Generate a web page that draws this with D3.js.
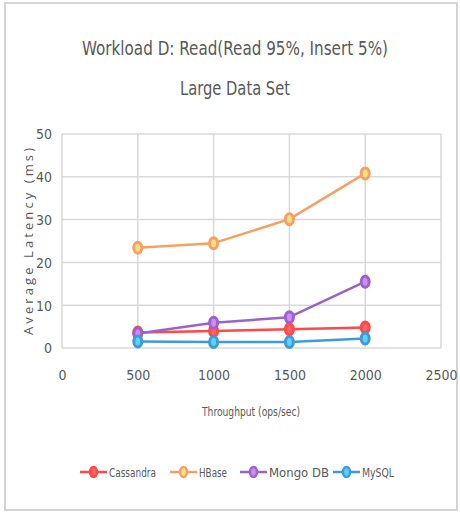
<!DOCTYPE html>
<html>
<head>
<meta charset="utf-8">
<script src="https://cdn.jsdelivr.net/npm/d3@7"></script>
<style>
  html, body { margin: 0; padding: 0; background: #ffffff; }
  svg { display: block; }
  text { font-family: "Liberation Sans Narrow", "DejaVu Sans Condensed", "Open Sans", sans-serif; fill: #595959; }
</style>
</head>
<body>
<svg id="chart" width="460" height="512"></svg>
<script>
// Throughput levels (ops/sec) on the x axis
const throughput = [500, 1000, 1500, 2000];

// Average latency (ms) per database
const cassandra = [3.6, 4.0, 4.4, 4.8];
const hbase     = [23.4, 24.5, 30.1, 40.8];
const mongodb   = [3.4, 5.9, 7.2, 15.5];
const mysql     = [1.5, 1.4, 1.4, 2.2];

const seriesNames  = ["Cassandra", "HBase", "Mongo DB", "MySQL"];
const seriesColors = ["#ff4848", "#f4a264", "#9b62c9", "#3f9ad9"];
const seriesValues = [cassandra, hbase, mongodb, mysql];

const xTicks = [0, 500, 1000, 1500, 2000, 2500];
const yTicks = [0, 10, 20, 30, 40, 50];

const titleLines = ["Workload D: Read(Read 95%, Insert 5%)", "Large Data Set"];
const xTitle = "Throughput (ops/sec)";
const yTitle = "Average Latency (ms)";

const svg = d3.select("#chart");

// outer frame
svg.append("rect")
  .attr("x", 5).attr("y", 3).attr("width", 452).attr("height", 507)
  .attr("fill", "#ffffff").attr("stroke", "#d4d4d4").attr("stroke-width", 2);

const plot = { left: 62, right: 441, top: 134, bottom: 348 };

const x = d3.scaleLinear().domain([0, 2500]).range([plot.left, plot.right]);
const y = d3.scaleLinear().domain([0, 50]).range([plot.bottom, plot.top]);

// titles
svg.append("text")
  .attr("x", 235).attr("y", 55)
  .attr("text-anchor", "middle")
  .attr("font-size", 20)
  .attr("textLength", 306).attr("lengthAdjust", "spacingAndGlyphs")
  .text(titleLines[0]);
svg.append("text")
  .attr("x", 235).attr("y", 95)
  .attr("text-anchor", "middle")
  .attr("font-size", 20)
  .attr("textLength", 110).attr("lengthAdjust", "spacingAndGlyphs")
  .text(titleLines[1]);

// grid lines
const grid = svg.append("g");
grid.selectAll("line.h").data(yTicks).join("line")
  .attr("x1", plot.left).attr("x2", plot.right)
  .attr("y1", d => y(d)).attr("y2", d => y(d))
  .attr("stroke", "#d9d9d9").attr("stroke-width", 1.5);
grid.selectAll("line.v").data(xTicks).join("line")
  .attr("x1", d => x(d)).attr("x2", d => x(d))
  .attr("y1", plot.top).attr("y2", plot.bottom)
  .attr("stroke", "#d9d9d9").attr("stroke-width", 1.5);

// axes (labels only)
const yAxis = svg.append("g")
  .attr("transform", `translate(${plot.left - 10},0)`)
  .call(d3.axisLeft(y).tickValues(yTicks).tickSize(0).tickPadding(0));
yAxis.select(".domain").remove();
yAxis.selectAll("text")
  .attr("font-size", 14)
  .style("font-family", "'Liberation Sans Narrow', 'DejaVu Sans Condensed', sans-serif")
  .attr("fill", "#595959").attr("dy", "0.35em");

const xAxis = svg.append("g")
  .attr("transform", `translate(0,${plot.bottom + 22})`)
  .call(d3.axisBottom(x).tickValues(xTicks).tickSize(0).tickPadding(0).tickFormat(d3.format("d")));
xAxis.select(".domain").remove();
xAxis.selectAll("text")
  .attr("font-size", 14)
  .style("font-family", "'Liberation Sans Narrow', 'DejaVu Sans Condensed', sans-serif")
  .attr("fill", "#595959");

// axis titles
svg.append("text")
  .attr("x", 251).attr("y", 416)
  .attr("text-anchor", "middle")
  .attr("font-size", 12)
  .attr("textLength", 98).attr("lengthAdjust", "spacingAndGlyphs")
  .text(xTitle);
svg.append("text")
  .attr("transform", `translate(33,${(148 + 335) / 2}) rotate(-90)`)
  .attr("text-anchor", "middle")
  .attr("font-size", 13)
  .attr("textLength", 187).attr("lengthAdjust", "spacing")
  .style("font-family", "'Open Sans', sans-serif")
  .text(yTitle);

// series lines and markers
const line = d3.line().x((d, i) => x(throughput[i])).y(d => y(d));
seriesValues.forEach((vals, s) => {
  const g = svg.append("g");
  g.append("path")
    .datum(vals)
    .attr("d", line)
    .attr("fill", "none")
    .attr("stroke", seriesColors[s])
    .attr("stroke-width", 2.5)
    .attr("stroke-linejoin", "round");
  g.selectAll("ellipse").data(vals).join("ellipse")
    .attr("cx", (d, i) => x(throughput[i]))
    .attr("cy", d => y(d))
    .attr("rx", 4).attr("ry", 5.5)
    .attr("fill", d3.color(seriesColors[s]).brighter(0.9))
    .attr("stroke", seriesColors[s])
    .attr("stroke-width", 3);
});

// legend
const legendX = [80, 170, 240, 333];
const legendLabelW = [47, 28, 60, 32];
const legend = svg.append("g").attr("transform", "translate(0,472)");
seriesNames.forEach((name, s) => {
  const lx = legendX[s];
  legend.append("line")
    .attr("x1", lx).attr("x2", lx + 27)
    .attr("y1", 0).attr("y2", 0)
    .attr("stroke", seriesColors[s]).attr("stroke-width", 2.5);
  legend.append("ellipse")
    .attr("cx", lx + 13.5).attr("cy", 0)
    .attr("rx", 3.5).attr("ry", 5)
    .attr("fill", d3.color(seriesColors[s]).brighter(0.9))
    .attr("stroke", seriesColors[s]).attr("stroke-width", 2.5);
  legend.append("text")
    .attr("x", lx + 29).attr("y", 0).attr("dy", "0.35em")
    .attr("font-size", 13)
    .attr("fill", "#404040")
    .attr("textLength", legendLabelW[s]).attr("lengthAdjust", "spacingAndGlyphs")
    .text(name);
});
</script>
</body>
</html>
